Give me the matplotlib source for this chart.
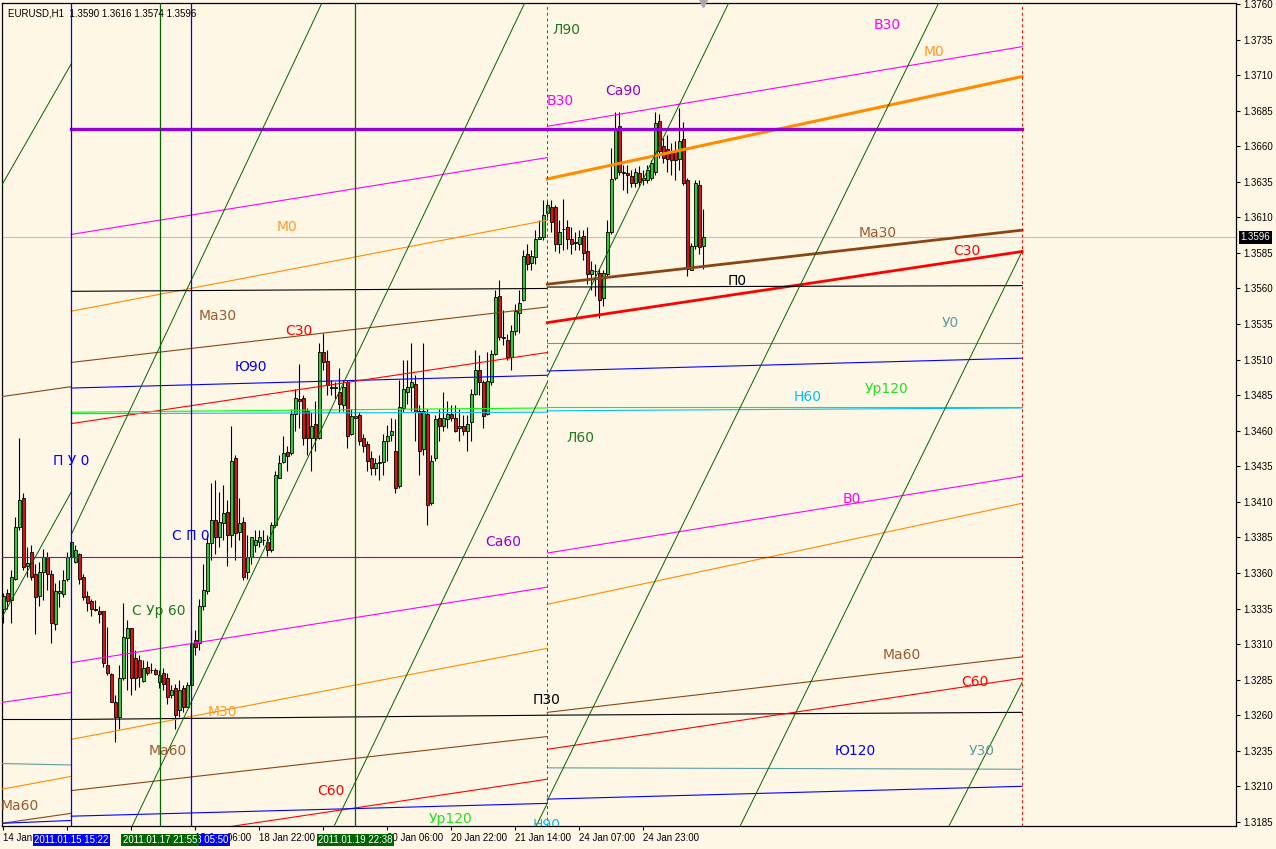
import numpy as np
import matplotlib
matplotlib.use("Agg")
import matplotlib.pyplot as plt
import matplotlib.transforms as mtransforms

# EURUSD H1 candles, prices in pips (1/10000)
opens = [13335, 13346, 13341, 13356, 13392, 13413, 13365, 13375, 13359, 13344,
         13361, 13371, 13359, 13324, 13346, 13345, 13356, 13371, 13368, 13373,
         13357, 13344, 13340, 13335, 13333, 13333, 13295, 13289, 13269, 13259,
         13286, 13314, 13321, 13300, 13299, 13284, 13294, 13292, 13292, 13283,
         13290, 13286, 13274, 13279, 13264, 13279, 13266, 13281, 13313, 13311,
         13337, 13347, 13381, 13397, 13385, 13395, 13403, 13387, 13441, 13389,
         13396, 13361, 13371, 13380, 13382, 13383, 13382, 13376, 13394, 13427,
         13438, 13445, 13444, 13472, 13482, 13483, 13474, 13455, 13465, 13455,
         13515, 13509, 13491, 13490, 13487, 13478, 13494, 13458, 13469, 13471,
         13455, 13451, 13441, 13434, 13437, 13438, 13453, 13457, 13446, 13421,
         13476, 13487, 13491, 13493, 13474, 13447, 13472, 13409, 13441, 13469,
         13463, 13468, 13472, 13469, 13462, 13463, 13460, 13466, 13486, 13503,
         13494, 13472, 13494, 13514, 13555, 13525, 13524, 13512, 13530, 13543,
         13552, 13584, 13578, 13582, 13595, 13596, 13613, 13617, 13617, 13591,
         13602, 13603, 13595, 13593, 13591, 13597, 13586, 13570, 13572, 13571,
         13553, 13570, 13600, 13638, 13674, 13642, 13641, 13639, 13634, 13641,
         13636, 13636, 13638, 13642, 13678, 13660, 13658, 13655, 13657, 13651,
         13665, 13636, 13573, 13590, 13633, 13590]
highs = [13346, 13349, 13362, 13399, 13455, 13416, 13378, 13380, 13366, 13368,
         13377, 13375, 13362, 13353, 13355, 13362, 13375, 13383, 13380, 13374,
         13359, 13347, 13342, 13341, 13337, 13333, 13322, 13290, 13274, 13295,
         13339, 13327, 13321, 13306, 13302, 13299, 13298, 13297, 13293, 13292,
         13293, 13290, 13281, 13282, 13285, 13281, 13283, 13320, 13320, 13342,
         13366, 13387, 13423, 13425, 13417, 13422, 13411, 13463, 13443, 13413,
         13399, 13387, 13385, 13390, 13390, 13390, 13387, 13396, 13432, 13443,
         13456, 13449, 13475, 13489, 13507, 13485, 13476, 13473, 13481, 13522,
         13529, 13517, 13496, 13494, 13504, 13496, 13496, 13475, 13471, 13473,
         13458, 13453, 13446, 13441, 13443, 13458, 13464, 13469, 13468, 13496,
         13510, 13510, 13522, 13499, 13478, 13522, 13475, 13443, 13471, 13475,
         13487, 13481, 13478, 13478, 13475, 13471, 13471, 13489, 13517, 13513,
         13496, 13515, 13517, 13559, 13566, 13545, 13528, 13534, 13549, 13559,
         13587, 13591, 13587, 13601, 13608, 13622, 13622, 13622, 13619, 13608,
         13623, 13608, 13603, 13600, 13601, 13601, 13603, 13579, 13577, 13574,
         13573, 13608, 13659, 13684, 13684, 13647, 13647, 13643, 13645, 13646,
         13643, 13647, 13650, 13684, 13683, 13666, 13668, 13662, 13664, 13687,
         13677, 13638, 13592, 13636, 13636, 13616]
lows = [13325, 13335, 13325, 13355, 13390, 13362, 13357, 13355, 13317, 13337,
        13341, 13348, 13311, 13320, 13336, 13343, 13354, 13370, 13367, 13352,
        13341, 13333, 13330, 13333, 13325, 13294, 13288, 13269, 13241, 13250,
        13285, 13278, 13274, 13278, 13280, 13283, 13288, 13290, 13288, 13279,
        13278, 13268, 13272, 13250, 13259, 13262, 13266, 13278, 13302, 13306,
        13334, 13345, 13369, 13373, 13378, 13383, 13365, 13378, 13369, 13383,
        13355, 13356, 13366, 13375, 13378, 13380, 13372, 13375, 13392, 13427,
        13437, 13432, 13443, 13460, 13462, 13450, 13443, 13432, 13446, 13454,
        13503, 13485, 13485, 13482, 13473, 13474, 13448, 13457, 13468, 13450,
        13445, 13432, 13429, 13429, 13425, 13429, 13439, 13453, 13416, 13420,
        13473, 13479, 13474, 13453, 13429, 13443, 13394, 13408, 13439, 13453,
        13460, 13462, 13467, 13459, 13453, 13457, 13446, 13453, 13485, 13485,
        13462, 13471, 13492, 13513, 13524, 13520, 13510, 13503, 13527, 13529,
        13551, 13573, 13573, 13577, 13595, 13594, 13608, 13600, 13586, 13585,
        13587, 13588, 13584, 13587, 13587, 13580, 13563, 13559, 13555, 13539,
        13548, 13569, 13598, 13636, 13640, 13629, 13627, 13631, 13631, 13631,
        13633, 13634, 13636, 13640, 13652, 13648, 13642, 13640, 13636, 13643,
        13633, 13569, 13573, 13588, 13584, 13574]
closes = [13344, 13340, 13357, 13392, 13411, 13364, 13367, 13357, 13343, 13361,
          13371, 13359, 13325, 13347, 13347, 13355, 13371, 13382, 13376, 13356,
          13343, 13339, 13335, 13334, 13331, 13297, 13290, 13269, 13259, 13286,
          13315, 13321, 13286, 13286, 13287, 13293, 13290, 13292, 13289, 13288,
          13282, 13273, 13278, 13260, 13278, 13266, 13281, 13311, 13308, 13337,
          13348, 13381, 13397, 13385, 13396, 13402, 13387, 13439, 13388, 13395,
          13357, 13371, 13385, 13383, 13385, 13383, 13376, 13394, 13429, 13437,
          13444, 13442, 13472, 13483, 13481, 13455, 13455, 13463, 13455, 13515,
          13508, 13492, 13490, 13491, 13479, 13491, 13456, 13470, 13470, 13453,
          13449, 13439, 13434, 13437, 13438, 13453, 13456, 13460, 13420, 13477,
          13489, 13491, 13494, 13473, 13446, 13474, 13408, 13439, 13468, 13463,
          13469, 13472, 13469, 13460, 13463, 13460, 13465, 13486, 13503, 13494,
          13470, 13495, 13514, 13554, 13526, 13526, 13512, 13530, 13544, 13550,
          13583, 13577, 13583, 13595, 13596, 13612, 13619, 13607, 13591, 13600,
          13602, 13595, 13591, 13592, 13596, 13585, 13570, 13573, 13572, 13552,
          13571, 13600, 13637, 13672, 13642, 13641, 13640, 13634, 13642, 13635,
          13638, 13643, 13648, 13676, 13657, 13652, 13651, 13650, 13650, 13664,
          13634, 13574, 13590, 13634, 13589, 13596]

bid = 1.3596

# time axis (labels hidden under the line-time boxes left empty)
time_ticks = [0, 16, 32, 48, 64, 80, 96, 112, 128, 144, 160]
time_labels = ['14 Jan', '', '', '18 Jan 06:00',
               '18 Jan 22:00', '', '20 Jan 06:00', '20 Jan 22:00',
               '21 Jan 14:00', '24 Jan 07:00', '24 Jan 23:00']

# vertical time lines (bar position, colour, label)
vline_bars = [17, 39.2, 47, 88]
vline_kind = ['blue', 'green', 'blue', 'green']
vline_text = ['2011.01.15 15:22', '2011.01.17 21:55', '2011.01.18 05:50', '2011.01.19 22:38']
zone_bars = [-0.3, 17, 136, 254.7]   # zone edges, dashed at 136 and 254.7

# level lines per zone: (zone index, start pips, end pips, kind)
levels = [
    (0, 13484, 13491, 'brown'), (0, 13269, 13276, 'magenta'), (0, 13208, 13217, 'orange'),
    (0, 13257, 13257, 'black'), (0, 13184, 13191, 'brown'), (0, 13184, 13186, 'blue'),
    (0, 13226, 13225, 'teal'),
    (1, 13598, 13652, 'magenta'), (1, 13544, 13608, 'orange'), (1, 13558, 13560, 'black'),
    (1, 13508, 13547, 'brown'), (1, 13490, 13499, 'blue'), (1, 13465, 13515, 'red'),
    (1, 13473, 13476, 'lime'), (1, 13472, 13473, 'cyan'), (1, 13297, 13350, 'magenta'),
    (1, 13243, 13307, 'orange'), (1, 13257, 13260, 'black'), (1, 13207, 13245, 'brown'),
    (1, 13165, 13215, 'red'), (1, 13189, 13198, 'blue'),
    (2, 13674, 13730, 'magenta'), (2, 13637, 13709, 'orange_thick'),
    (2, 13563, 13601, 'brown_thick'), (2, 13536, 13586, 'red_thick'),
    (2, 13561, 13562, 'black'), (2, 13522, 13522, 'teal'), (2, 13502, 13511, 'blue'),
    (2, 13477, 13477, 'lime'), (2, 13474, 13476, 'cyan'), (2, 13374, 13428, 'magenta'),
    (2, 13338, 13409, 'orange'), (2, 13262, 13301, 'brown'), (2, 13260, 13262, 'black'),
    (2, 13236, 13286, 'red'), (2, 13223, 13222, 'teal'), (2, 13201, 13210, 'blue'),
]
purple_thick_pips = 13672
purple_thin_pips = 13371

# steep green lines: (bar0, bar1, pips0, pips1)
diag_lines = [
    (-0.3, 17, 13633, 13718), (-0.3, 17, 13329, 13417), (17, 79.7, 13387, 13761),
    (32.2, 130.4, 13182, 13761), (82.7, 136, 13182, 13494), (136, 181.4, 13498, 13761),
    (133.2, 136, 13182, 13198), (136, 233.9, 13200, 13761), (184.2, 254.7, 13182, 13586),
    (236.4, 254.7, 13182, 13283),
]

# text marks: (text, bar, pips, kind)
marks = [
    ('Л90', 140.7, 13742, 'dgreen'), ('В30', 139.2, 13692, 'magenta'),
    ('Са90', 154.9, 13699, 'purple'), ('В30', 220.9, 13745, 'magenta'),
    ('М0', 232.7, 13726, 'orange'), ('М0', 70.9, 13603, 'orange'),
    ('Ма30', 218.7, 13599, 'brown'), ('С30', 240.9, 13586, 'red'),
    ('П0', 183.4, 13565, 'black'), ('Ма30', 53.7, 13541, 'brown'),
    ('С30', 73.9, 13530, 'red'), ('У0', 236.7, 13536, 'teal'),
    ('Ю90', 61.9, 13505, 'blue'), ('Н60', 201.2, 13484, 'cyan'),
    ('Ур120', 220.7, 13489, 'lime'), ('Л60', 144.2, 13455, 'dgreen'),
    ('П У 0', 16.9, 13439, 'blue'), ('В0', 212.2, 13412, 'magenta'),
    ('С П 0', 46.9, 13386, 'blue'), ('Са60', 124.9, 13382, 'purple'),
    ('С Ур 60', 38.9, 13333, 'dgreen'), ('Ма60', 224.7, 13302, 'brown'),
    ('С60', 242.9, 13283, 'red'), ('П30', 135.9, 13271, 'black'),
    ('М30', 54.7, 13262, 'orange'), ('Ма60', 41.2, 13235, 'brown'),
    ('Ю120', 212.9, 13235, 'blue'), ('У30', 244.7, 13235, 'teal'),
    ('С60', 81.9, 13207, 'red'), ('Ма60', 4.2, 13196, 'brown'),
    ('Ур120', 111.7, 13187, 'lime'), ('Н90', 135.9, 13183, 'cyan'),
]

BG = '#fff7e6'
line_style = {
    'magenta': ('#ff00ff', 0.8), 'orange': ('#ff8c00', 0.8), 'black': ('black', 0.8),
    'brown': ('#8b4513', 0.8), 'blue': ('#0000ff', 0.8), 'red': ('#ff0000', 0.8),
    'lime': ('#00ff00', 0.8), 'cyan': ('#00bfff', 0.8), 'teal': ('#5f9ea0', 0.8),
    'orange_thick': ('#ff8c00', 2.2), 'brown_thick': ('#8b4513', 2.0),
    'red_thick': ('#ff0000', 2.0),
}
text_color = {
    'dgreen': '#1f7a1f', 'magenta': '#ff00ff', 'purple': '#9400d3', 'orange': '#ff9a28',
    'brown': '#9a5a2e', 'red': '#ff0000', 'black': 'black', 'teal': '#5f9ea0',
    'blue': '#0000ff', 'cyan': '#00bfff', 'lime': '#22e022',
}
vcol = {'blue': '#0000ff', 'green': '#006400'}

o = np.array(opens) / 1e4
h = np.array(highs) / 1e4
l = np.array(lows) / 1e4
c = np.array(closes) / 1e4
idx = np.arange(len(o))

plt.rcParams['font.family'] = ['DejaVu Sans']
fig = plt.figure(figsize=(12.76, 8.49), dpi=100, facecolor=BG)
ax = fig.add_axes([2 / 1276, 23 / 849, 1234 / 1276, 823 / 849])
ax.set_facecolor(BG)
ax.set_xlim(-0.325, 308.175)
ax.set_ylim(1.31821, 1.37607)

# candles
ax.vlines(idx, l, h, color='black', lw=0.8, zorder=2)
up = c >= o
ax.bar(idx, np.maximum(np.abs(c - o), 0.000005), 0.7, bottom=np.minimum(o, c),
       color=np.where(up, '#2ecc2e', '#dd1111'), edgecolor='black', linewidth=0.6, zorder=2.5)

# bid line
ax.axhline(bid, color='#c0c0c0', lw=0.8, zorder=1.5)

# level lines
for z, p0, p1, kind in levels:
    col, lw = line_style[kind]
    ax.plot([zone_bars[z], zone_bars[z + 1]], [p0 / 1e4, p1 / 1e4], color=col, lw=lw, zorder=3)
ax.plot([zone_bars[1], zone_bars[3]], [purple_thick_pips / 1e4] * 2, color='#9400d3', lw=2.4, zorder=3)
ax.plot([zone_bars[0], zone_bars[3]], [purple_thin_pips / 1e4] * 2, color='#9400d3', lw=0.8, zorder=3)

for b0, b1, p0, p1 in diag_lines:
    ax.plot([b0, b1], [p0 / 1e4, p1 / 1e4], color='#006400', lw=0.7, zorder=3)

# vertical lines
for b, k in zip(vline_bars, vline_kind):
    ax.axvline(b, color=vcol[k], lw=0.9, zorder=3)
for b in zone_bars[2:]:
    ax.axvline(b, color='#ff0000', lw=0.7, ls=(0, (3, 3)), zorder=3)

for txt, b, p, k in marks:
    ax.text(b, p / 1e4, txt, color=text_color[k], fontsize=10, ha='center', va='center',
            zorder=4, clip_on=True)

# header
ax.text(0.005, 0.993, 'EURUSD,H1  1.3590 1.3616 1.3574 1.3596', transform=ax.transAxes,
        fontsize=7, family='Liberation Sans', va='top', ha='left', zorder=5)

# shift marker
ax.plot([174.9], [1.0], transform=mtransforms.blended_transform_factory(ax.transData, ax.transAxes),
        marker='v', ms=6, color='#a8a8a8', clip_on=False, zorder=5)

# axes styling
for s in ax.spines.values():
    s.set_color('black')
    s.set_linewidth(0.9)
ax.yaxis.tick_right()
yt = np.round(np.arange(1.3185, 1.37601, 0.0025), 4)
ax.set_yticks(yt)
ax.set_yticklabels([f'{v:.4f}' for v in yt])
ax.set_xticks(time_ticks)
ax.set_xticklabels(time_labels)
ax.tick_params(axis='both', labelsize=7, length=3, width=0.8, color='black', pad=2)
for lbl in ax.get_xticklabels() + ax.get_yticklabels():
    lbl.set_family('Liberation Sans')
for lbl in ax.get_xticklabels():
    lbl.set_ha('left')

bt = mtransforms.blended_transform_factory(ax.transData, ax.transAxes)
zo = {0: 10, 1: 12, 2: 11, 3: 12}
for i, (b, k, txt) in enumerate(zip(vline_bars, vline_kind, vline_text)):
    ax.text(b, -0.017, txt, transform=bt, color='white', fontsize=7, family='Liberation Sans',
            ha='center', va='center', clip_on=False, zorder=zo[i],
            bbox=dict(boxstyle='square,pad=0.15', fc=vcol[k], ec='none'))

yb = mtransforms.blended_transform_factory(ax.transAxes, ax.transData)
ax.text(1.0035, bid, f'{bid:.4f}', transform=yb, color='white', fontsize=7,
        family='Liberation Sans', ha='left', va='center', clip_on=False, zorder=12,
        bbox=dict(boxstyle='square,pad=0.15', fc='black', ec='none'))

fig.savefig('out.png', dpi=100, facecolor=BG)
